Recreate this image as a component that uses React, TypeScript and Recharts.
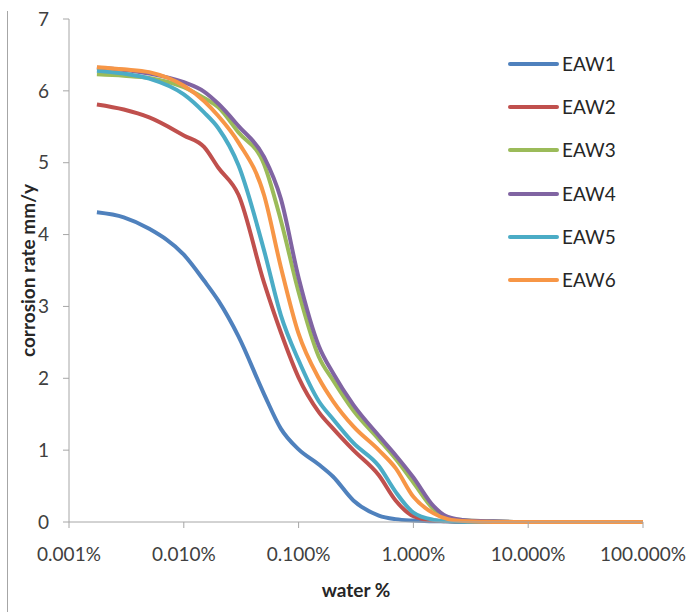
import React from 'react';
import { LineChart, Line, XAxis, YAxis, Legend } from 'recharts';

const waterPct = [0.00175, 0.003, 0.005, 0.01, 0.015, 0.02, 0.03, 0.05, 0.07, 0.1, 0.15, 0.2, 0.3, 0.5, 0.7, 1, 1.5, 2, 3, 5, 10, 20];
const waterPct6 = [...waterPct, 100];

const eaw1 = [4.31, 4.24, 4.08, 3.72, 3.36, 3.08, 2.58, 1.78, 1.30, 1.01, 0.80, 0.63, 0.30, 0.09, 0.04, 0.02, 0.01, 0.01, 0, 0, 0, 0];
const eaw2 = [5.81, 5.74, 5.63, 5.38, 5.22, 4.93, 4.55, 3.33, 2.64, 2.01, 1.53, 1.30, 1.00, 0.65, 0.30, 0.08, 0.02, 0.01, 0, 0, 0, 0];
const eaw3 = [6.23, 6.21, 6.18, 6.05, 5.90, 5.77, 5.42, 4.98, 4.20, 3.20, 2.30, 1.97, 1.55, 1.15, 0.88, 0.55, 0.18, 0.06, 0.02, 0.01, 0, 0];
const eaw4 = [6.32, 6.29, 6.24, 6.12, 5.99, 5.82, 5.51, 5.08, 4.50, 3.40, 2.45, 2.07, 1.63, 1.20, 0.93, 0.62, 0.22, 0.07, 0.02, 0.01, 0, 0];
const eaw5 = [6.28, 6.24, 6.17, 5.95, 5.70, 5.48, 4.96, 3.78, 2.88, 2.25, 1.68, 1.43, 1.10, 0.78, 0.42, 0.13, 0.03, 0.01, 0, 0, 0, 0];
const eaw6 = [6.33, 6.30, 6.26, 6.07, 5.86, 5.65, 5.28, 4.55, 3.55, 2.62, 2.00, 1.68, 1.33, 1.00, 0.75, 0.35, 0.12, 0.04, 0.01, 0, 0, 0, 0];

const seriesNames = ['EAW1', 'EAW2', 'EAW3', 'EAW4', 'EAW5', 'EAW6'];
const seriesColors = ['#4F81BD', '#C0504D', '#9BBB59', '#8064A2', '#4BACC6', '#F79646'];
const xTicks = [0.001, 0.01, 0.1, 1, 10, 100];
const yTicks = [0, 1, 2, 3, 4, 5, 6, 7];

const build = (xs: number[], ys: number[]) => xs.map((x, i) => ({ x, y: ys[i] }));
const seriesData = [
  build(waterPct, eaw1),
  build(waterPct, eaw2),
  build(waterPct, eaw3),
  build(waterPct, eaw4),
  build(waterPct, eaw5),
  build(waterPct6, eaw6),
];

const FONT = 'Lato, "Open Sans", sans-serif';
const AXIS = '#A6A6A6';

const renderLegend = () => (
  <div style={{ fontFamily: FONT }}>
    {seriesNames.map((n, i) => (
      <div key={n} style={{ height: 43.2, display: 'flex', alignItems: 'center' }}>
        <span style={{ display: 'inline-block', width: 51, height: 4, borderRadius: 2, background: seriesColors[i] }} />
        <span style={{ marginLeft: 3, fontSize: 19, color: '#262626', lineHeight: '20px' }}>{n}</span>
      </div>
    ))}
  </div>
);

export default function App() {
  return (
    <div style={{ position: 'absolute', left: 0, top: 0, width: 698, height: 612, background: '#fff' }}>
      <div style={{ position: 'absolute', left: 7, top: 11, height: 601, borderLeft: '1px solid #A6A6A6' }} />
      <LineChart width={698} height={612} margin={{ top: 19, right: 55, left: 9, bottom: 20 }}>
        <XAxis
          type="number"
          dataKey="x"
          scale="log"
          domain={[0.001, 100]}
          ticks={xTicks}
          allowDataOverflow
          tickFormatter={(v: number) => v.toFixed(3) + '%'}
          height={70}
          tickSize={6}
          tickMargin={20}
          stroke={AXIS}
          tick={{ fill: '#404040', fontSize: 19, fontFamily: FONT }}
          label={{
            content: (props: any) => {
              const vb = props.viewBox;
              return (
                <text x={vb.x + vb.width / 2} y={vb.y + 75} textAnchor="middle" fontFamily={FONT} fontWeight="bold" fontSize={19} fill="#262626">
                  water %
                </text>
              );
            },
          }}
        />
        <YAxis
          type="number"
          domain={[0, 7]}
          ticks={yTicks}
          width={60}
          tickSize={6}
          tickMargin={14}
          stroke={AXIS}
          tick={{ fill: '#404040', fontSize: 19, fontFamily: FONT }}
          label={{
            content: (props: any) => {
              const vb = props.viewBox;
              const cx = vb.x + 18;
              const cy = vb.y + vb.height / 2;
              return (
                <text x={cx} y={cy} transform={`rotate(-90 ${cx} ${cy})`} textAnchor="middle" dominantBaseline="central" fontFamily={FONT} fontWeight="bold" fontSize={19} fill="#262626">
                  corrosion rate mm/y
                </text>
              );
            },
          }}
        />
        <Legend
          layout="vertical"
          align="center"
          verticalAlign="middle"
          content={renderLegend}
          wrapperStyle={{ left: 508, top: 42.5, width: 150 }}
        />
        {seriesNames.map((n, i) => (
          <Line
            key={n}
            name={n}
            data={seriesData[i]}
            dataKey="y"
            type="monotone"
            stroke={seriesColors[i]}
            strokeWidth={4}
            dot={false}
            activeDot={false}
            isAnimationActive={false}
          />
        ))}
      </LineChart>
    </div>
  );
}
